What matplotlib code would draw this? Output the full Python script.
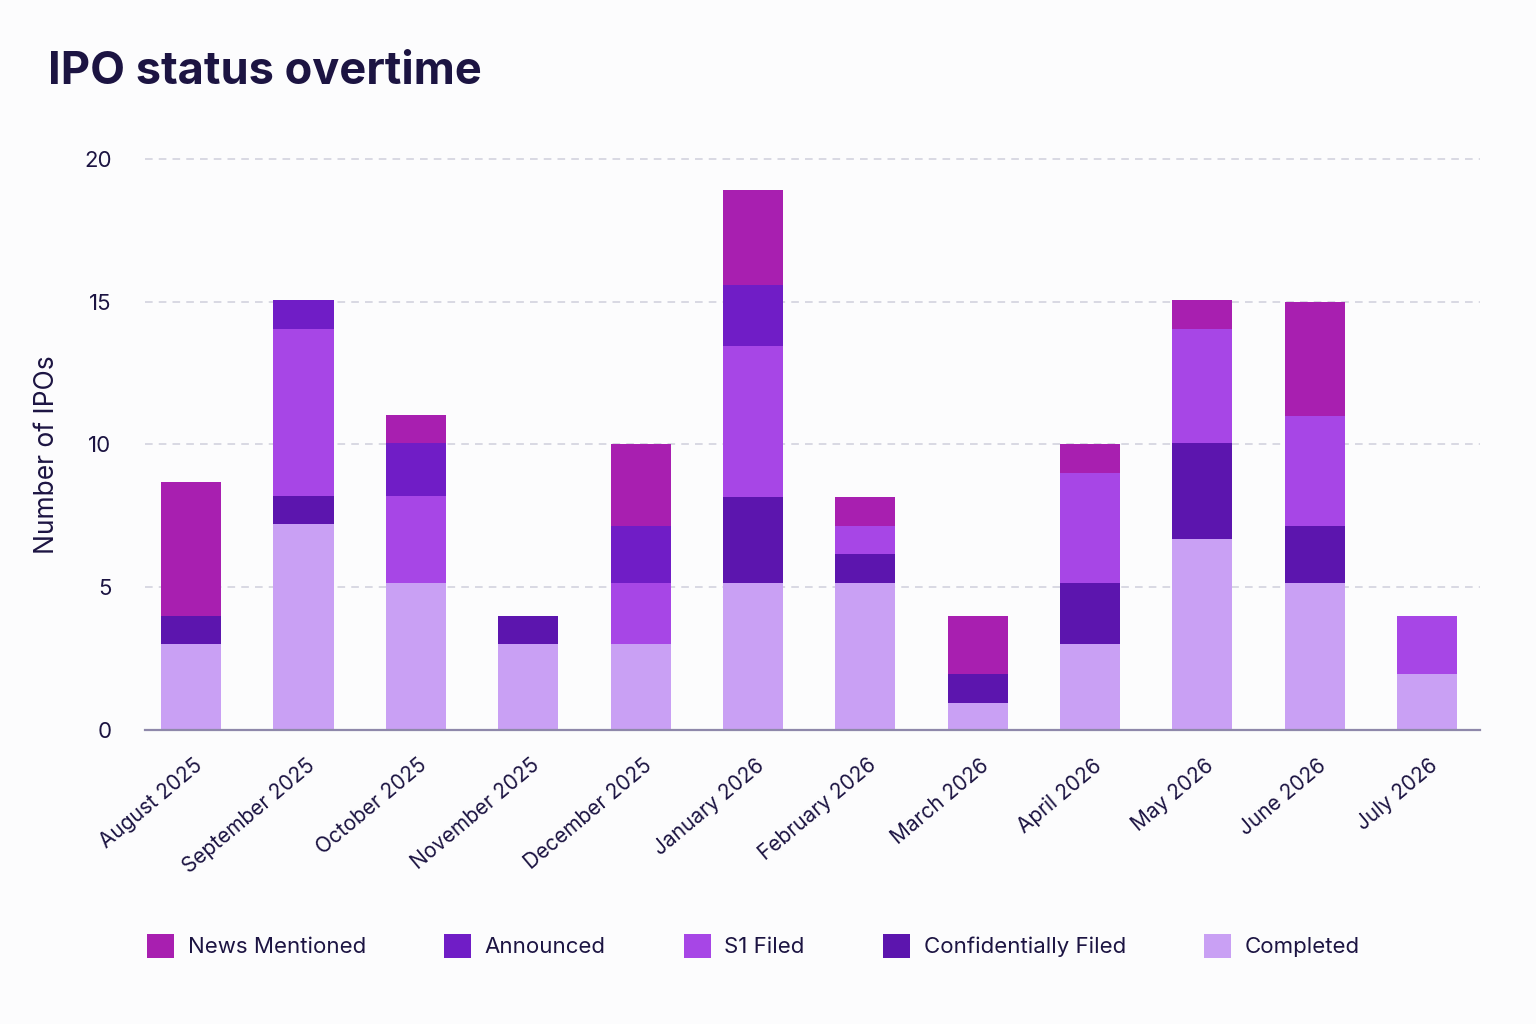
import matplotlib
matplotlib.use("Agg")
import matplotlib.pyplot as plt
import matplotlib.transforms as mtrans
import numpy as np
from matplotlib.patches import Patch

months = ["August 2025", "September 2025", "October 2025", "November 2025",
          "December 2025", "January 2026", "February 2026", "March 2026",
          "April 2026", "May 2026", "June 2026", "July 2026"]
completed = [3, 7.2, 5.15, 3, 3, 5.15, 5.15, 0.95, 3, 6.7, 5.15, 1.95]
confidentially_filed = [1, 1, 0, 1, 0, 3, 1, 1, 2.15, 3.35, 2, 0]
s1_filed = [0, 5.85, 3.05, 0, 2.15, 5.3, 1, 0, 3.85, 4.0, 3.85, 2.05]
announced = [0, 1, 1.85, 0, 2, 2.15, 0, 0, 0, 0, 0, 0]
news_mentioned = [4.7, 0, 1, 0, 2.85, 3.3, 1, 2.05, 1, 1, 4, 0]

series = [
    ("Completed", completed, "#c9a0f4"),
    ("Confidentially Filed", confidentially_filed, "#5c15ae"),
    ("S1 Filed", s1_filed, "#a746e6"),
    ("Announced", announced, "#701dc6"),
    ("News Mentioned", news_mentioned, "#a81fb0"),
]

plt.rcParams['font.family'] = ['Inter', 'DejaVu Sans']
text_color = "#1c1442"
bg = "#fcfcfd"

fig = plt.figure(figsize=(15.36, 10.24), dpi=100, facecolor=bg)
ax = fig.add_axes([145/1536, 1-730/1024, (1480-145)/1536, (730-144.7)/1024])
ax.set_facecolor(bg)

x = np.arange(len(months))
bottom = np.zeros(len(months))
for name, vals, col in series:
    v = np.array(vals, dtype=float)
    ax.bar(x, v, width=0.535, bottom=bottom, color=col, edgecolor='none', zorder=3)
    bottom += v

ax.set_xlim(-0.41, 11.47)
ax.set_ylim(0, 20.5)
ax.set_yticks([0, 5, 10, 15, 20])
ax.yaxis.grid(True, linestyle=(0, (5, 4)), color="#cfcfdc", linewidth=1.1, zorder=0)
ax.set_axisbelow(True)
for s in ["top", "right", "left"]:
    ax.spines[s].set_visible(False)
ax.spines["bottom"].set_color("#8e88aa")
ax.spines["bottom"].set_linewidth(1.6)
ax.spines["bottom"].set_zorder(4)

ax.tick_params(axis='y', length=0, pad=24, labelsize=16, labelcolor=text_color)
ax.tick_params(axis='x', length=0, pad=18, labelsize=15, labelcolor=text_color)
ax.set_xticks(x)
ax.set_xticklabels(months, rotation=40, ha='right', rotation_mode='anchor')
for lbl in ax.get_xticklabels():
    lbl.set_transform(lbl.get_transform() + mtrans.ScaledTranslation(2/100, 0, fig.dpi_scale_trans))

fig.text(47/1536, 1-455/1024, "Number of IPOs", rotation=90, ha='center', va='center',
         fontsize=19, color=text_color)

fig.text(48/1536, 1-72/1024, "IPO status overtime", ha='left', va='center',
         fontsize=32.5, fontweight='bold', color=text_color)

handles = [Patch(facecolor=c, edgecolor='none', label=n) for n, _, c in series[::-1]]
fig.legend(handles=handles, loc='center left', bbox_to_anchor=(147/1536, 1-946/1024),
           ncol=5, frameon=False, fontsize=16, labelcolor=text_color,
           handlelength=1.22, handleheight=1.22, handletextpad=0.62,
           columnspacing=3.5, borderpad=0, borderaxespad=0)

fig.savefig("out.png", dpi=100, facecolor=bg)
